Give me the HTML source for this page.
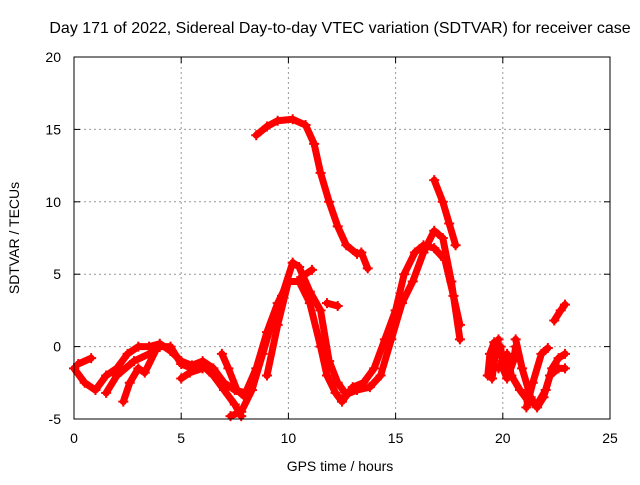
<!DOCTYPE html>
<html><head><meta charset="utf-8"><style>
body{margin:0;background:#fff}
text{font-family:"Liberation Sans",sans-serif;fill:#000}
</style></head><body>
<svg id="chart" width="640" height="480" xmlns="http://www.w3.org/2000/svg">
<text x="340" y="33" font-size="16" text-anchor="middle">Day 171 of 2022, Sidereal Day-to-day VTEC variation (SDTVAR) for receiver case</text>
<g id="grid"></g>
<g id="series"></g>
<rect x="74" y="57" width="536" height="362" fill="none" stroke="#000" stroke-width="1"/>
<g id="ticks"></g>
<text x="340" y="471" font-size="14" text-anchor="middle">GPS time / hours</text>
<text x="0" y="0" font-size="14" text-anchor="middle" transform="translate(19,238) rotate(-90)">SDTVAR / TECUs</text>
</svg>
<script>
const xTicks=[0,5,10,15,20,25];
const yTicks=[-5,0,5,10,15,20];
const seriesHigh=[[8.5,14.6],[9,15.2],[9.5,15.6],[10.2,15.7],[10.8,15.3],[11.2,14],[11.5,12],[11.9,10],[12.3,8.3],[12.7,7],[13.2,6.4],[13.4,6.5],[13.7,5.4]];
const seriesWaveA=[[7.3,-4.8],[7.8,-4.5],[8.3,-3],[8.8,-0.5],[9.2,1.5],[9.7,3.5],[10.2,5.8],[10.5,5.5],[11,3.8],[11.5,2.5],[11.9,-1],[12.3,-2.5],[12.7,-3.3],[13.2,-3],[13.8,-2.8],[14.3,-2],[14.8,0.5],[15.3,3],[15.8,4.5],[16.3,6.5],[16.8,8],[17.2,7.5],[17.6,4.5],[18,0.5]];
const seriesWaveB=[[9,-2],[9.5,1.5],[10,4.5],[10.5,4.5],[11,3],[11.5,0],[11.8,-2],[12.2,-3.2],[12.5,-3.8],[13,-2.8],[13.5,-2.5],[14,-1.5],[14.5,0.5],[15,2.5],[15.4,5],[15.9,6.5],[16.3,7],[16.8,6.8],[17.3,6],[17.7,3.5],[18,1.5]];
const seriesPeak=[[16.8,11.5],[17.2,10],[17.5,8.5],[17.8,7]];
const seriesSpur1=[[10.6,4.8],[11.1,5.3]];
const seriesSpur2=[[11.8,3],[12.3,2.8]];
const seriesL1=[[0,-1.5],[0.5,-2.5],[1,-3],[1.5,-2],[2,-1.5],[2.5,-0.5],[3,0],[3.5,0],[4,0.2],[4.5,-0.3],[5,-1],[5.5,-1.3],[6,-1],[6.5,-1.5],[7,-2.5],[7.5,-3],[8,-3.2],[8.5,-1.5],[9,1],[9.5,3],[10,4.5]];
const seriesL2=[[1.5,-3.2],[2,-2],[2.8,-1],[3.5,-0.5],[4,0],[4.5,0],[5,-1.2],[5.5,-1.5],[6,-1.3],[6.5,-2],[7,-3],[7.5,-4],[7.8,-4.8]];
const seriesL3=[[2.3,-3.8],[2.6,-2.5],[3,-1.5],[3.3,-1.8],[3.8,-0.3]];
const seriesL4=[[5,-2.2],[5.4,-1.8],[6,-1.5]];
const seriesL5=[[6.9,-0.5],[7.2,-1.5],[7.6,-3],[8,-3.5]];
const seriesL6=[[0.2,-1.2],[0.8,-0.8]];
const seriesR1=[[19.3,-2],[19.4,-0.5],[19.6,0.3],[19.9,0],[20,-1.5],[20.2,-2.2],[20.5,-1],[20.6,0]];
const seriesR2=[[19.8,-1.5],[20.2,-0.5],[20.4,-2],[20.8,-3],[21.2,-3.8],[21.6,-4],[22,-3],[22.3,-1.5],[22.6,-0.8],[22.9,-0.5]];
const seriesR3=[[20.6,0.5],[20.9,-1.5],[21.3,-3.5],[21.6,-4.2],[21.9,-3.5],[22.2,-2],[22.6,-1.5],[22.9,-1.5]];
const seriesR4=[[21.1,-4.2],[21.4,-2.5],[21.8,-0.5],[22.1,-0.1]];
const seriesR5=[[22.4,1.8],[22.7,2.5],[22.9,2.9]];
const seriesR6=[[19.5,-2.2],[19.6,-1],[19.8,0.5]];
const allSeries=[seriesHigh,seriesWaveA,seriesWaveB,seriesPeak,seriesSpur1,seriesSpur2,seriesL1,seriesL2,seriesL3,seriesL4,seriesL5,seriesL6,seriesR1,seriesR2,seriesR3,seriesR4,seriesR5,seriesR6];

const NS="http://www.w3.org/2000/svg";
const X0=74,X1=610,Y0=419,Y1=57;
function sx(v){return X0+(v-0)/(25-0)*(X1-X0);}
function sy(v){return Y0-(v+5)/(20+5)*(Y0-Y1);}
function mk(tag,attrs,parent){const e=document.createElementNS(NS,tag);for(const k in attrs)e.setAttribute(k,attrs[k]);parent.appendChild(e);return e;}
const grid=document.getElementById('grid'),ticks=document.getElementById('ticks'),ser=document.getElementById('series');
xTicks.forEach(t=>{
  const x=sx(t);
  if(t>0&&t<25){const g=mk('line',{x1:x,x2:x,y1:Y1,y2:Y0,stroke:'#999','stroke-dasharray':'2,3'},grid);
  
  }
  const a=mk('line',{x1:x,x2:x,y1:Y0,y2:Y0-6,stroke:'#000'},ticks);
  
  
  const b=mk('line',{x1:x,x2:x,y1:Y1,y2:Y1+6,stroke:'#000'},ticks);
  
  
  const l=mk('text',{x:x,y:Y0+24,'font-size':14,'text-anchor':'middle'},ticks);l.textContent=t;
  
  
});
yTicks.forEach(t=>{
  const y=sy(t);
  if(t>-5&&t<20){const g=mk('line',{x1:X0,x2:X1,y1:y,y2:y,stroke:'#999','stroke-dasharray':'2,3'},grid);
  
  }
  const a=mk('line',{x1:X0,x2:X0+6,y1:y,y2:y,stroke:'#000'},ticks);
  
  
  const b=mk('line',{x1:X1,x2:X1-6,y1:y,y2:y,stroke:'#000'},ticks);
  
  
  const l=mk('text',{x:X0-13,y:y+5,'font-size':14,'text-anchor':'end'},ticks);l.textContent=t;
  
  
});
allSeries.forEach(s=>{
  const pts=s.map(p=>sx(p[0])+','+sy(p[1])).join(' ');
  const pl=mk('polyline',{points:pts,fill:'none',stroke:'#f00','stroke-width':7,'stroke-linejoin':'round','stroke-linecap':'round'},ser);
  
  
  s.forEach(p=>{
    const x=sx(p[0]),y=sy(p[1]);
    const m=mk('path',{d:`M${x-5},${y}H${x+5}M${x},${y-5}V${y+5}`,stroke:'#f00','stroke-width':2},ser);
    
    
  });
});
</script>
</body></html>
